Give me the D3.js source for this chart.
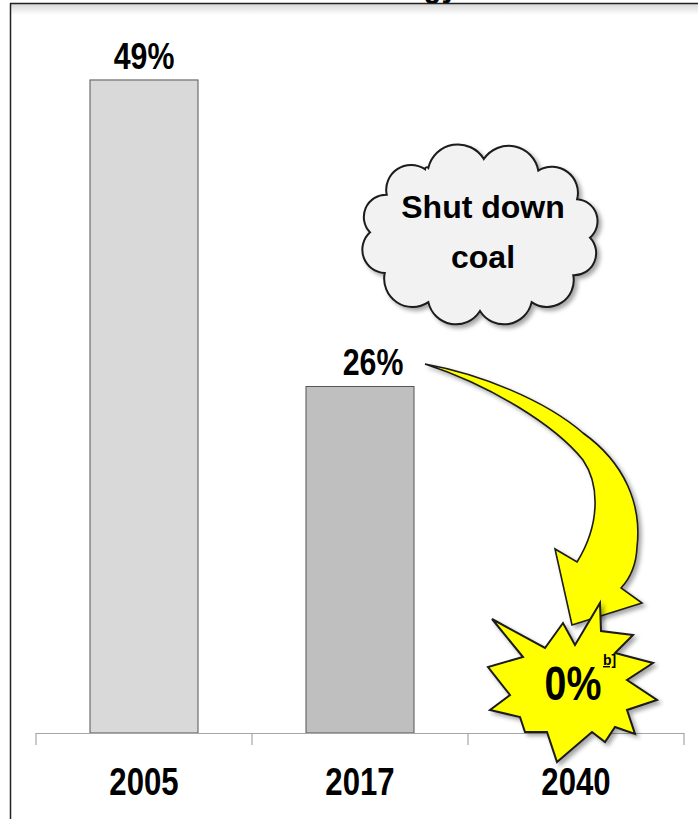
<!DOCTYPE html>
<html>
<head>
<meta charset="utf-8">
<script src="https://cdn.jsdelivr.net/npm/d3@7"></script>
<style>
  html, body { margin: 0; padding: 0; background: #fff; }
  svg { display: block; }
  .narrow { font-family: "Liberation Sans", Arial, sans-serif; font-weight: bold; }
  .wide { font-family: "Liberation Sans", Arial, sans-serif; font-weight: bold; }
</style>
</head>
<body>
<div id="chart"></div>
<script>
// Share of coal in the energy mix
const years = ["2005", "2017", "2040"];
const coalShare = [49, 26, 0];
const shareLabels = ["49%", "26%", "0%"];
const titleText = "Coal in U.S. Energy";
const cloudLines = ["Shut down", "coal"];
const footnote = "b]";

const W = 698, H = 819;
const NARROW = 0.82; // condensed lettering, as a horizontal squeeze of the bold sans
const svg = d3.select("#chart").append("svg").attr("width", W).attr("height", H);

const defs = svg.append("defs");
const grad = defs.append("linearGradient").attr("id", "topShade")
  .attr("x1", 0).attr("y1", 0).attr("x2", 0).attr("y2", 1);
grad.append("stop").attr("offset", 0).attr("stop-color", "#d8d8d8");
grad.append("stop").attr("offset", 1).attr("stop-color", "#ffffff");
const shadow = defs.append("filter").attr("id", "shadow")
  .attr("x", "-20%").attr("y", "-20%").attr("width", "150%").attr("height", "150%");
shadow.append("feDropShadow").attr("dx", 3).attr("dy", 3).attr("stdDeviation", 2)
  .attr("flood-color", "#000").attr("flood-opacity", 0.35);

// Condensed text placed at (px, py), centred
function narrowText(parent, px, py, size, str) {
  return parent.append("text").attr("class", "narrow")
    .attr("transform", `translate(${px},${py}) scale(${NARROW},1)`)
    .attr("text-anchor", "middle").attr("font-size", size).attr("fill", "#000")
    .text(str);
}

// Scales
const x = d3.scaleBand().domain(years).range([36, 684]).paddingInner(0.5).paddingOuter(0.25);
const y = d3.scaleLinear().domain([0, 55]).range([733, 0]);
const bw = x.bandwidth();
const step = x.step();

// Frame with a title running off the top edge
svg.append("rect").attr("x", 10).attr("y", 4).attr("width", W - 10).attr("height", 11)
  .attr("fill", "url(#topShade)");
svg.append("text").attr("class", "wide")
  .attr("transform", `translate(458,-3) scale(${NARROW},1)`)
  .attr("text-anchor", "end").attr("font-size", 36).text(titleText);
svg.append("line").attr("x1", 10).attr("x2", W).attr("y1", 3.5).attr("y2", 3.5)
  .attr("stroke", "#222").attr("stroke-width", 1.5);
svg.append("line").attr("x1", 10.5).attr("x2", 10.5).attr("y1", 3).attr("y2", H)
  .attr("stroke", "#222").attr("stroke-width", 1.5);

// Bars
const barFill = ["#d9d9d9", "#bfbfbf", "#bfbfbf"];
svg.append("g").selectAll("rect").data(years).join("rect")
  .attr("x", d => x(d))
  .attr("y", (d, i) => y(coalShare[i]))
  .attr("width", bw)
  .attr("height", (d, i) => y(0) - y(coalShare[i]))
  .attr("fill", (d, i) => barFill[i])
  .attr("stroke", "#555").attr("stroke-width", 1)
  .attr("display", (d, i) => coalShare[i] > 0 ? null : "none");

// Value labels above the bars
const labelDx = [0, 13, 0];
const valG = svg.append("g");
years.slice(0, 2).forEach((d, i) => {
  narrowText(valG, x(d) + bw / 2 + labelDx[i], y(coalShare[i]) - 11, 37, shareLabels[i]);
});

// Category axis: baseline with separator ticks between bands
const axisG = svg.append("g");
axisG.append("line").attr("x1", x.range()[0]).attr("x2", x.range()[1])
  .attr("y1", y(0) + 0.5).attr("y2", y(0) + 0.5).attr("stroke", "#a6a6a6").attr("stroke-width", 1.2);
const seps = [x.range()[0]].concat(years.map(d => x(d) + bw + step * 0.25));
axisG.selectAll(".sep").data(seps).join("line").attr("class", "sep")
  .attr("x1", d => d).attr("x2", d => d).attr("y1", y(0)).attr("y2", y(0) + 12)
  .attr("stroke", "#a6a6a6").attr("stroke-width", 1.2);
years.forEach(d => narrowText(axisG, x(d) + bw / 2, y(0) + 62, 38, d));

// Thought cloud
function cloudPath(cx, cy, a, b, angles) {
  const pts = angles.map(t => {
    const r = t * Math.PI / 180;
    return [cx + a * Math.cos(r), cy + b * Math.sin(r)];
  });
  let d = `M${pts[0][0]},${pts[0][1]}`;
  for (let i = 0; i < pts.length; i++) {
    const p = pts[i], q = pts[(i + 1) % pts.length];
    const c = Math.hypot(q[0] - p[0], q[1] - p[1]);
    const rr = c * 0.54;
    d += ` A${rr},${rr} 0 0 1 ${q[0]},${q[1]}`;
  }
  return d + "Z";
}
const cloudCx = 480, cloudCy = 235;
svg.append("path")
  .attr("d", cloudPath(cloudCx, cloudCy, 110, 76, [-118, -88, -58, -28, 2, 32, 62, 90, 118, 150, 182, 212, 240]))
  .attr("fill", "#f2f2f2").attr("stroke", "#1a1a1a").attr("stroke-width", 2)
  .attr("filter", "url(#shadow)");
svg.append("text").attr("class", "wide").attr("x", cloudCx + 3).attr("y", cloudCy - 17)
  .attr("text-anchor", "middle").attr("font-size", 32).text(cloudLines[0]);
svg.append("text").attr("class", "wide").attr("x", cloudCx + 3).attr("y", cloudCy + 33)
  .attr("text-anchor", "middle").attr("font-size", 32).text(cloudLines[1]);

// Curved arrow from the 2017 value toward 2040
const ax = x("2017") + bw, ay = y(coalShare[1]);
const P = (dx, dy) => `${ax + dx},${ay + dy}`;
const arrowD = [
  `M${P(11, -22.5)}`,
  `C${P(66, -12.5)} ${P(131, 13.5)} ${P(169, 46.5)}`,
  `C${P(211, 76.5)} ${P(228, 118.5)} ${P(223, 160.5)}`,
  `Q${P(222, 185.5)} ${P(207, 201.5)}`,
  `L${P(228, 216.5)}`,
  `L${P(158, 238.5)}`,
  `L${P(141, 162.5)}`,
  `L${P(163, 175.5)}`,
  `C${P(186, 138.5)} ${P(186, 98.5)} ${P(169, 73.5)}`,
  `C${P(141, 38.5)} ${P(76, -1.5)} ${P(11, -22.5)}`,
  "Z"
].join(" ");
svg.append("path").attr("d", arrowD)
  .attr("fill", "#ffff00").attr("stroke", "#1a1a1a").attr("stroke-width", 1.6)
  .attr("stroke-linejoin", "miter").attr("filter", "url(#shadow)");

// Starburst holding the 2040 value
const sx = x("2040") + bw / 2 - 4, sy = y(coalShare[2]) - 51;
const burst = [
  [-80, -63], [-27, -34], [-9, -59], [3, -37], [28, -79], [29, -51], [61, -47],
  [43, -29], [81, -19], [55, -2], [85, 18], [55, 28], [63, 52], [43, 45],
  [33, 60], [20, 50], [-15, 80], [-25, 50], [-47, 50], [-52, 35], [-82, 28],
  [-62, 13], [-84, -15], [-49, -25]
];
const starG = svg.append("g");
starG.append("path")
  .attr("d", "M" + burst.map(p => `${sx + p[0]},${sy + p[1]}`).join("L") + "Z")
  .attr("fill", "#ffff00").attr("stroke", "#1a1a1a").attr("stroke-width", 2)
  .attr("stroke-linejoin", "miter").attr("filter", "url(#shadow)");
narrowText(starG, sx + 1, sy + 18, 48, shareLabels[2]);
starG.append("text").attr("class", "wide").attr("x", sx + 31).attr("y", sy - 17)
  .attr("font-size", 14).attr("font-weight", "normal")
  .attr("text-decoration", "underline").text(footnote);
</script>
</body>
</html>
